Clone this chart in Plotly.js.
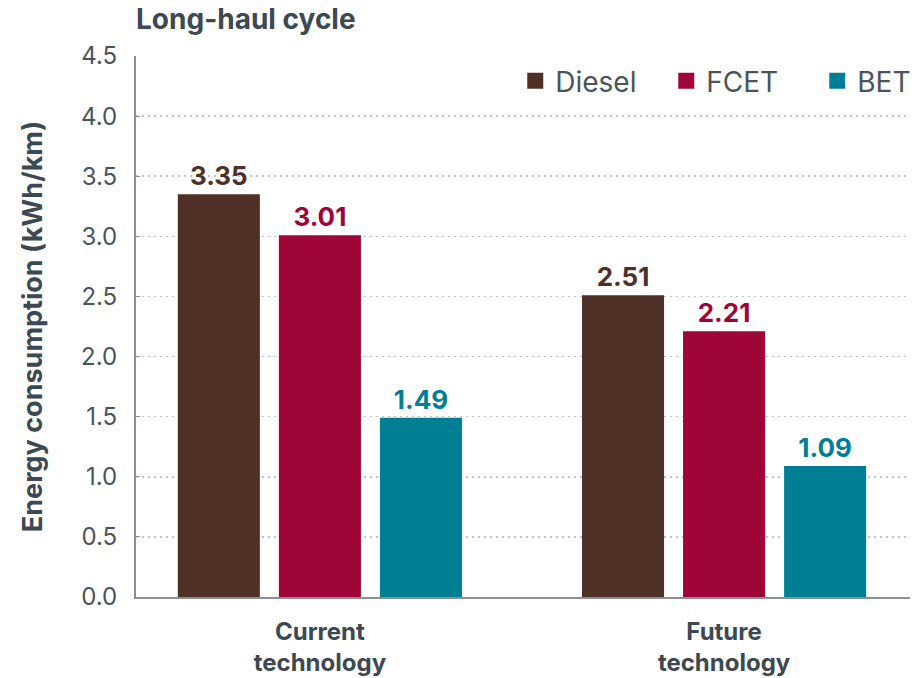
<!DOCTYPE html>
<html><head><meta charset="utf-8">
<script src="https://cdn.plot.ly/plotly-3.0.1.min.js"></script>
<style>html,body{margin:0;padding:0;background:#fff;}#chart{width:915px;height:678px;}</style>
</head><body><div id="chart"></div>
<script>
const categories = ["Current<br>technology", "Future<br>technology"];
const seriesNames = ["Diesel", "FCET", "BET"];
const diesel = [3.35, 2.51];
const fcet = [3.01, 2.21];
const bet = [1.49, 1.09];
const yTicks = [0, 0.5, 1.0, 1.5, 2.0, 2.5, 3.0, 3.5, 4.0, 4.5];
const yTickLabels = ["0.0","0.5","1.0","1.5","2.0","2.5","3.0","3.5","4.0","4.5"];

const colors = ["#4e3027", "#a00538", "#007f94"];
const FONT = "Inter, Lato, sans-serif";
const values = [diesel, fcet, bet];

const traces = values.map((v, i) => ({
  type: "bar",
  name: seriesNames[i],
  x: categories,
  y: v,
  marker: {color: colors[i]},
  text: v.map(d => d.toFixed(2)),
  textposition: "outside",
  cliponaxis: false,
  textfont: {family: FONT, size: 26, color: colors[i], weight: 700},
  showlegend: false,
  hoverinfo: "skip"
}));

// legend entries (square swatches)
seriesNames.forEach((n, i) => traces.push({
  type: "scatter", mode: "markers", name: n,
  x: [null], y: [null],
  marker: {symbol: "square", size: 20, color: colors[i]},
  showlegend: true, hoverinfo: "skip"
}));

const layout = {
  width: 915, height: 678,
  margin: {l: 136, r: 5, t: 56, b: 81, autoexpand: false},
  paper_bgcolor: "#fff", plot_bgcolor: "#fff",
  barmode: "group",
  bargap: 0.25,
  bargroupgap: 0.188,
  font: {family: FONT, color: "#4b535c"},
  title: {
    text: "<b>Long-haul cycle</b>",
    font: {family: FONT, size: 28, color: "#3c4852"},
    x: 0, xanchor: "left", xref: "paper",
    y: 1 - 19/678, yanchor: "middle", yref: "container"
  },
  showlegend: true,
  legend: {
    orientation: "h",
    x: 0.49, xanchor: "left", y: 1, yanchor: "top",
    yref: "paper",
    font: {family: FONT, size: 28, color: "#4b535c"},
    traceorder: "normal",
    itemsizing: "trace",
    entrywidth: 106,
    bgcolor: "rgba(0,0,0,0)"
  },
  xaxis: {
    range: [-0.455, 1.46],
    showgrid: false,
    showline: true, linecolor: "#8a8f94", linewidth: 2,
    ticks: "",
    ticklabelstandoff: 12,
    tickfont: {family: FONT, size: 24, color: "#3c4852", weight: 700},
    zeroline: false
  },
  yaxis: {
    range: [0, 4.5],
    tickvals: yTicks, ticktext: yTickLabels,
    showgrid: true, gridcolor: "#c4c4c4", griddash: "2px,4px", gridwidth: 1.5,
    showline: true, linecolor: "#8a8f94", linewidth: 2,
    ticks: "inside", ticklen: 4, tickcolor: "#8a8f94", tickwidth: 1,
    ticklabelstandoff: 12,
    tickfont: {family: FONT, size: 24, color: "#4b535c"},
    zeroline: false,
    title: {
      text: "<b>Energy consumption (kWh/km)</b>",
      font: {family: FONT, size: 27, color: "#3c4852"},
      standoff: 31
    }
  }
};

Plotly.newPlot("chart", traces, layout, {displayModeBar: false, staticPlot: true});
</script></body></html>
